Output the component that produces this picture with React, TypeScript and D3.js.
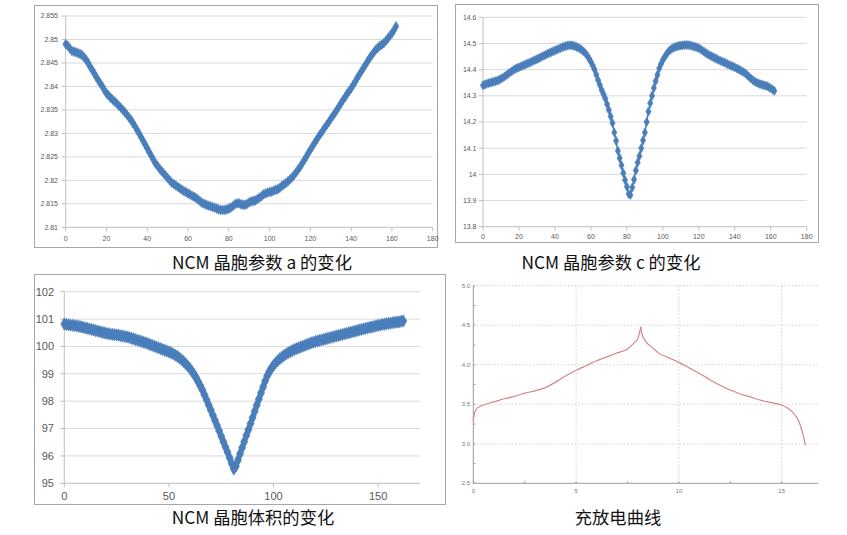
import React from "react";
import * as d3 from "d3";

// ---------- DATA ----------
// NCM lattice parameter a vs index (0..162)
const aValues = [
  2.8490, 2.8487, 2.8481, 2.8476, 2.8474, 2.8473, 2.8471, 2.8469, 2.8467, 2.8462,
  2.8457, 2.8450, 2.8442, 2.8435, 2.8428, 2.8420, 2.8413, 2.8406, 2.8400, 2.8392,
  2.8385, 2.8381, 2.8376, 2.8372, 2.8368, 2.8364, 2.8359, 2.8355, 2.8350, 2.8345,
  2.8340, 2.8334, 2.8329, 2.8322, 2.8315, 2.8307, 2.8300, 2.8292, 2.8284, 2.8276,
  2.8268, 2.8260, 2.8252, 2.8244, 2.8236, 2.8231, 2.8225, 2.8220, 2.8215, 2.8210,
  2.8205, 2.8200, 2.8195, 2.8192, 2.8189, 2.8186, 2.8183, 2.8180, 2.8177, 2.8175,
  2.8172, 2.8170, 2.8167, 2.8165, 2.8162, 2.8159, 2.8155, 2.8152, 2.8150, 2.8148,
  2.8146, 2.8145, 2.8143, 2.8142, 2.8140, 2.8138, 2.8137, 2.8137, 2.8137, 2.8138,
  2.8140, 2.8142, 2.8145, 2.8149, 2.8151, 2.8151, 2.8149, 2.8148, 2.8148, 2.8150,
  2.8153, 2.8155, 2.8156, 2.8157, 2.8160, 2.8163, 2.8166, 2.8170, 2.8172, 2.8174,
  2.8175, 2.8176, 2.8178, 2.8180, 2.8181, 2.8184, 2.8188, 2.8191, 2.8194, 2.8198,
  2.8202, 2.8206, 2.8211, 2.8217, 2.8223, 2.8229, 2.8236, 2.8243, 2.8250, 2.8258,
  2.8265, 2.8272, 2.8279, 2.8286, 2.8293, 2.8299, 2.8305, 2.8312, 2.8318, 2.8324,
  2.8331, 2.8337, 2.8343, 2.8350, 2.8357, 2.8364, 2.8371, 2.8377, 2.8384, 2.8390,
  2.8396, 2.8403, 2.8410, 2.8418, 2.8425, 2.8432, 2.8439, 2.8446, 2.8453, 2.8460,
  2.8466, 2.8472, 2.8478, 2.8482, 2.8486, 2.8489, 2.8492, 2.8497, 2.8502, 2.8508,
  2.8513, 2.8520, 2.8528,
];

// NCM lattice parameter c vs index (0..162)
const cValues = [
  14.340, 14.343, 14.346, 14.348, 14.350, 14.352, 14.354, 14.356, 14.358, 14.361,
  14.365, 14.369, 14.374, 14.379, 14.384, 14.389, 14.394, 14.399, 14.403, 14.406,
  14.409, 14.412, 14.415, 14.418, 14.421, 14.424, 14.427, 14.430, 14.434, 14.437,
  14.440, 14.443, 14.447, 14.450, 14.454, 14.457, 14.461, 14.464, 14.467, 14.470,
  14.473, 14.476, 14.479, 14.482, 14.485, 14.488, 14.490, 14.492, 14.493, 14.493,
  14.492, 14.490, 14.487, 14.484, 14.480, 14.475, 14.469, 14.462, 14.453, 14.442,
  14.430, 14.416, 14.401, 14.381, 14.360, 14.341, 14.322, 14.306, 14.290, 14.268,
  14.246, 14.221, 14.196, 14.160, 14.128, 14.090, 14.062, 14.035, 14.005, 13.978,
  13.953, 13.925, 13.921, 13.950, 13.980, 14.015, 14.045, 14.070, 14.100, 14.130,
  14.160, 14.200, 14.240, 14.272, 14.300, 14.330, 14.356, 14.380, 14.405, 14.422,
  14.437, 14.448, 14.459, 14.468, 14.475, 14.480, 14.484, 14.487, 14.489, 14.491,
  14.492, 14.493, 14.494, 14.494, 14.494, 14.493, 14.491, 14.489, 14.487, 14.485,
  14.482, 14.478, 14.473, 14.468, 14.463, 14.459, 14.455, 14.451, 14.448, 14.444,
  14.441, 14.437, 14.434, 14.431, 14.428, 14.425, 14.421, 14.418, 14.415, 14.412,
  14.409, 14.405, 14.402, 14.398, 14.394, 14.390, 14.385, 14.379, 14.372, 14.366,
  14.360, 14.355, 14.351, 14.348, 14.345, 14.343, 14.341, 14.339, 14.337, 14.333,
  14.329, 14.324, 14.319,
];

// NCM unit-cell volume vs index (0..162)
const volValues = [
  100.82, 100.80, 100.79, 100.78, 100.77, 100.76, 100.75, 100.73, 100.72, 100.70,
  100.68, 100.66, 100.64, 100.62, 100.60, 100.58, 100.56, 100.54, 100.52, 100.50,
  100.48, 100.47, 100.45, 100.44, 100.43, 100.42, 100.41, 100.39, 100.38, 100.36,
  100.35, 100.33, 100.30, 100.28, 100.25, 100.23, 100.20, 100.18, 100.15, 100.13,
  100.10, 100.07, 100.04, 100.01, 99.98, 99.95, 99.92, 99.89, 99.86, 99.83,
  99.80, 99.77, 99.73, 99.68, 99.64, 99.58, 99.52, 99.45, 99.37, 99.29,
  99.20, 99.09, 98.98, 98.85, 98.71, 98.56, 98.41, 98.23, 98.05, 97.86,
  97.68, 97.49, 97.30, 97.11, 96.92, 96.72, 96.52, 96.33, 96.14, 95.93,
  95.72, 95.52, 95.62, 95.85, 96.08, 96.30, 96.52, 96.75, 96.96, 97.18,
  97.40, 97.63, 97.86, 98.08, 98.30, 98.52, 98.74, 98.93, 99.08, 99.20,
  99.31, 99.40, 99.48, 99.55, 99.61, 99.67, 99.72, 99.77, 99.81, 99.85,
  99.89, 99.92, 99.95, 99.98, 100.01, 100.04, 100.07, 100.10, 100.13, 100.15,
  100.18, 100.20, 100.22, 100.24, 100.26, 100.28, 100.30, 100.32, 100.34, 100.36,
  100.38, 100.40, 100.42, 100.44, 100.46, 100.48, 100.50, 100.52, 100.54, 100.56,
  100.58, 100.60, 100.62, 100.64, 100.66, 100.68, 100.70, 100.71, 100.73, 100.75,
  100.77, 100.78, 100.80, 100.81, 100.83, 100.84, 100.85, 100.87, 100.88, 100.89,
  100.90, 100.92, 100.93,
];

// Charge/discharge curve: capacity and voltage
const capValues = [
  0, 0.05, 0.15, 0.3, 0.6, 1.0, 1.5, 2.0, 2.5, 3.0, 3.5, 4.0, 4.5, 5.0, 5.5, 6.0,
  6.5, 7.0, 7.5, 7.8, 8.0, 8.15,
  8.2, 8.4, 8.7, 9.0, 9.5, 10.0, 10.5, 11.0, 11.5, 12.0, 12.5, 13.0, 13.5, 14.0,
  14.5, 15.0, 15.3, 15.6, 15.8, 15.95, 16.1, 16.15,
];
const voltValues = [
  3.28, 3.38, 3.44, 3.47, 3.50, 3.53, 3.57, 3.60, 3.64, 3.67, 3.71, 3.78, 3.86, 3.93,
  3.99, 4.05, 4.10, 4.15, 4.20, 4.27, 4.33, 4.48,
  4.39, 4.29, 4.22, 4.15, 4.09, 4.03, 3.96, 3.89, 3.81, 3.74, 3.68, 3.63, 3.59, 3.55,
  3.52, 3.49, 3.45, 3.38, 3.30, 3.20, 3.05, 2.98,
];

const aYTicks = [2.81, 2.815, 2.82, 2.825, 2.83, 2.835, 2.84, 2.845, 2.85, 2.855];
const aYTickLabels = ["2.81", "2.815", "2.82", "2.825", "2.83", "2.835", "2.84", "2.845", "2.85", "2.855"];
const xTicks180 = [0, 20, 40, 60, 80, 100, 120, 140, 160, 180];
const cYTicks = [13.8, 13.9, 14, 14.1, 14.2, 14.3, 14.4, 14.5, 14.6];
const cYTickLabels = ["13.8", "13.9", "14", "14.1", "14.2", "14.3", "14.4", "14.5", "14.6"];
const vYTicks = [95, 96, 97, 98, 99, 100, 101, 102];
const vXTicks = [0, 50, 100, 150];
const eYTicks = [2.5, 3.0, 3.5, 4.0, 4.5, 5.0];
const eYTickLabels = ["2.5", "3.0", "3.5", "4.0", "4.5", "5.0"];
const eXTicks = [0, 5, 10, 15];

const titles = ["NCM 晶胞参数 a 的变化", "NCM 晶胞参数 c 的变化", "NCM 晶胞体积的变化", "充放电曲线"];

// ---------- STYLE ----------
const BLUE = "#4a7ebb";
const GRID = "#d9d9d9";
const AXIS = "#bfbfbf";
const LABEL = "#595959";
const FONT = "'Liberation Sans', Arial, sans-serif";
const CJK = "'Noto Sans CJK SC', 'Noto Sans', sans-serif";

type ScatterProps = {
  values: number[];
  x: d3.ScaleLinear<number, number>;
  y: d3.ScaleLinear<number, number>;
  yTicks: number[];
  yLabels: string[];
  xTicks: number[];
  fontSize: number;
  markerSize: number;
  lineWidth: number;
  yLabelX: number;
  xLabelY: number;
};

function ExcelChart(p: ScatterProps) {
  const [x0, x1] = p.x.range();
  const [yb, yt] = p.y.range();
  const line = d3
    .line<number>()
    .x((_, i) => p.x(i))
    .y((d) => p.y(d));
  const sym = d3.symbol().type(d3.symbolDiamond).size(p.markerSize)();
  return (
    <g>
      {p.yTicks.map((t, i) => (
        <g key={"y" + i}>
          <line x1={x0} x2={x1} y1={p.y(t)} y2={p.y(t)} stroke={i === 0 ? AXIS : GRID} strokeWidth={1} />
          <line x1={x0 - 4} x2={x0} y1={p.y(t)} y2={p.y(t)} stroke={AXIS} />
          <text x={p.yLabelX} y={p.y(t)} dy="0.35em" textAnchor="end" fontSize={p.fontSize} fill={LABEL} fontFamily={FONT}>
            {p.yLabels[i]}
          </text>
        </g>
      ))}
      <line x1={x0} x2={x0} y1={yb} y2={yt} stroke={AXIS} />
      {p.xTicks.map((t, i) => (
        <g key={"x" + i}>
          <line x1={p.x(t)} x2={p.x(t)} y1={yb} y2={yb + 4} stroke={AXIS} />
          <text x={p.x(t)} y={p.xLabelY} dy="0.35em" textAnchor="middle" fontSize={p.fontSize} fill={LABEL} fontFamily={FONT}>
            {t}
          </text>
        </g>
      ))}
      <path d={line(p.values) || ""} fill="none" stroke={BLUE} strokeWidth={p.lineWidth} />
      {p.values.map((v, i) => (
        <path key={i} d={sym || ""} transform={`translate(${p.x(i)},${p.y(v)})`} fill={BLUE} stroke={BLUE} strokeWidth={0.6} />
      ))}
    </g>
  );
}

export default function App() {
  const xa = d3.scaleLinear().domain([0, 180]).range([65.7, 432.7]);
  const ya = d3.scaleLinear().domain([2.81, 2.855]).range([227.3, 16]);
  const xc = d3.scaleLinear().domain([0, 180]).range([483, 806.7]);
  const yc = d3.scaleLinear().domain([13.8, 14.6]).range([226.7, 17.3]);
  const xv = d3.scaleLinear().domain([0, 170]).range([64.3, 420]);
  const yv = d3.scaleLinear().domain([95, 102]).range([483.3, 291.7]);
  const xe = d3.scaleLinear().domain([0, 16.8]).range([473.3, 818.7]);
  const ye = d3.scaleLinear().domain([2.5, 5.0]).range([483.3, 285.7]);

  const eLine = d3
    .line<number>()
    .x((_, i) => xe(capValues[i]))
    .y((d) => ye(d))
    .curve(d3.curveMonotoneX);
  const charge = voltValues.slice(0, 22);
  const dischargeIdx = d3.range(21, voltValues.length);

  const dischargeLine = d3
    .line<number>()
    .x((i) => xe(capValues[i]))
    .y((i) => ye(voltValues[i]))
    .curve(d3.curveMonotoneX);

  const eMinor = d3.range(2.5, 5.01, 0.25);
  const eXMinor = d3.range(0, 16.6, 2.5);

  const titleSize = 17.3;

  return (
    <svg width={847} height={535} style={{ position: "absolute", left: 0, top: 0, background: "#fff" }}>
      <rect x={0} y={0} width={847} height={535} fill="#fff" />
      {/* frames */}
      <rect x={34.5} y={5.5} width={403} height={242} fill="#fff" stroke="#a6a6a6" />
      <rect x={455.5} y={4.5} width={363} height={238} fill="#fff" stroke="#a6a6a6" />
      <rect x={34.5} y={274.5} width={411} height={230} fill="#fff" stroke="#a6a6a6" />

      <ExcelChart values={aValues} x={xa} y={ya} yTicks={aYTicks} yLabels={aYTickLabels} xTicks={xTicks180}
        fontSize={7} markerSize={28} lineWidth={2} yLabelX={58} xLabelY={238.5} />
      <ExcelChart values={cValues} x={xc} y={yc} yTicks={cYTicks} yLabels={cYTickLabels} xTicks={xTicks180}
        fontSize={7} markerSize={24} lineWidth={1.5} yLabelX={476.5} xLabelY={237} />
      <ExcelChart values={volValues} x={xv} y={yv} yTicks={vYTicks} yLabels={vYTicks.map(String)} xTicks={vXTicks}
        fontSize={11} markerSize={44} lineWidth={2} yLabelX={54} xLabelY={496.5} />

      {/* charge/discharge panel */}
      <g>
        {eYTicks.slice(1).map((t, i) => (
          <line key={"eg" + i} x1={xe(0)} x2={818} y1={ye(t)} y2={ye(t)} stroke="#cfcfcf" strokeDasharray="1.5,2" />
        ))}
        {eXTicks.slice(1).map((t, i) => (
          <line key={"ev" + i} x1={xe(t)} x2={xe(t)} y1={ye(5.0)} y2={ye(2.5)} stroke="#cfcfcf" strokeDasharray="1.5,2" />
        ))}
        <line x1={xe(0)} x2={xe(0)} y1={ye(5.0)} y2={ye(2.5)} stroke="#9a9a9a" />
        <line x1={xe(0)} x2={818} y1={ye(2.5)} y2={ye(2.5)} stroke="#9a9a9a" />
        {eMinor.map((t, i) => (
          <line key={"em" + i} x1={xe(0)} x2={xe(0) + 2} y1={ye(t)} y2={ye(t)} stroke="#9a9a9a" />
        ))}
        {eXMinor.map((t, i) => (
          <line key={"exm" + i} x1={xe(t)} x2={xe(t)} y1={ye(2.5)} y2={ye(2.5) - 2} stroke="#9a9a9a" />
        ))}
        {eYTicks.map((t, i) => (
          <text key={"el" + i} x={470} y={ye(t)} dy="0.35em" textAnchor="end" fontSize={6} fill="#777" fontFamily={FONT}>
            {eYTickLabels[i]}
          </text>
        ))}
        {eXTicks.map((t, i) => (
          <text key={"ex" + i} x={xe(t)} y={490.5} dy="0.35em" textAnchor="middle" fontSize={6} fill="#777" fontFamily={FONT}>
            {t}
          </text>
        ))}
        <path d={eLine(charge) || ""} fill="none" stroke="#d4868c" strokeWidth={1.2} />
        <path d={dischargeLine(dischargeIdx) || ""} fill="none" stroke="#d4868c" strokeWidth={1.2} />
      </g>

      {/* titles */}
      <text x={262} y={263} dy="0.35em" textAnchor="middle" fontSize={titleSize} fill="#111" fontFamily={CJK}>{titles[0]}</text>
      <text x={611} y={263} dy="0.35em" textAnchor="middle" fontSize={titleSize} fill="#111" fontFamily={CJK}>{titles[1]}</text>
      <text x={253} y={518} dy="0.35em" textAnchor="middle" fontSize={titleSize} fill="#111" fontFamily={CJK}>{titles[2]}</text>
      <text x={618} y={518} dy="0.35em" textAnchor="middle" fontSize={titleSize} fill="#111" fontFamily={CJK}>{titles[3]}</text>
    </svg>
  );
}
